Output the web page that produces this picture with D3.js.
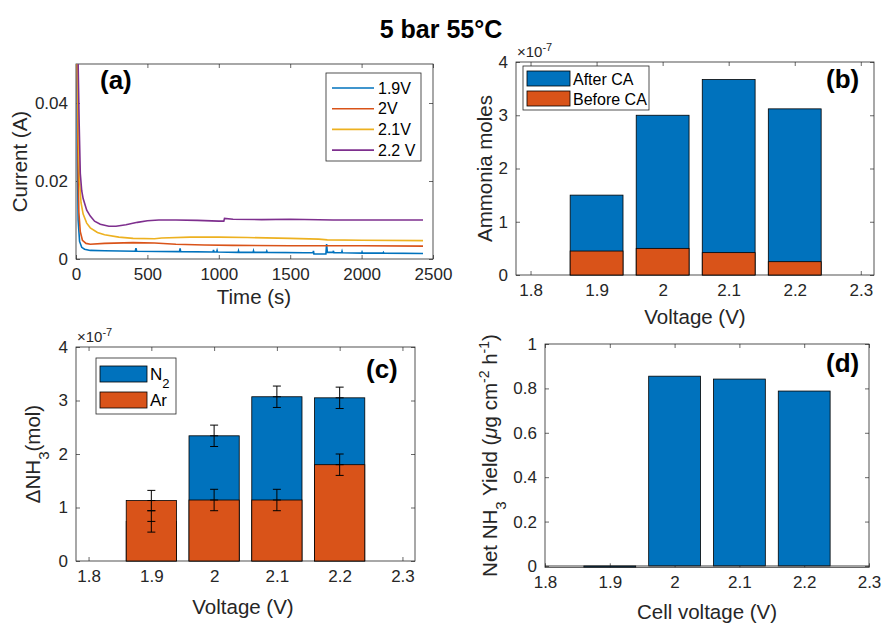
<!DOCTYPE html>
<html>
<head>
<meta charset="utf-8">
<script src="https://cdn.jsdelivr.net/npm/d3@7"></script>
<style>
  body { margin: 0; background: #fff; }
  text { font-family: "Liberation Sans", Arial, sans-serif; fill: #262626; }
  .tick text { font-size: 17px; fill: #262626; }
  .tick line { stroke: #262626; stroke-width: 0.7; }
  .frame { fill: none; stroke: #262626; stroke-width: 0.8; }
  .label { font-size: 20.5px; }
  .plabel { font-size: 26px; font-weight: bold; fill: #000; }
  .leg { font-size: 16px; fill: #000; }
  .bar { stroke: #000; stroke-width: 0.8; }
  .err { stroke: #000; stroke-width: 1; fill: none; }
</style>
</head>
<body>
<div id="chart"></div>
<script>
// ---- data ----
// (a) current transients, [time (s), current (A)]
let cur19 = [[0,0.08],[6,0.05],[10,0.025],[15,0.01],[25,0.0045],[40,0.003],[60,0.0025],[100,0.0022],[200,0.0021],
  [415,0.0020],[420,0.0028],[425,0.0020],[725,0.0019],[729,0.0027],[733,0.0019],[960,0.0018],[963,0.0023],[967,0.0018],
  [985,0.0018],[988,0.0022],[991,0.0018],[1135,0.0017],[1138,0.0021],[1141,0.0017],[1240,0.0017],[1243,0.0021],[1246,0.0017],
  [1333,0.0017],[1336,0.0020],[1339,0.0017],[1600,0.0016],[1660,0.0016],[1663,0.0021],[1666,0.0013],[1750,0.0013],
  [1755,0.0038],[1760,0.0017],[1800,0.0017],[1803,0.0021],[1806,0.0016],[1860,0.0016],[1863,0.0020],[1866,0.0016],
  [2000,0.0015],[2003,0.0018],[2006,0.0015],[2150,0.0015],[2153,0.0017],[2156,0.0015],[2430,0.0014]];
let cur20 = [[0,0.08],[8,0.05],[14,0.025],[20,0.012],[30,0.007],[45,0.0048],[70,0.0040],[100,0.0038],[200,0.0040],
  [400,0.0042],[550,0.0041],[700,0.0038],[900,0.0036],[1100,0.0035],[1500,0.0034],[2000,0.0034],[2430,0.0033]];
let cur21 = [[0,0.08],[10,0.05],[18,0.03],[25,0.02],[35,0.0145],[50,0.0115],[75,0.0092],[100,0.0080],[150,0.0068],
  [200,0.0062],[300,0.0056],[400,0.0053],[550,0.0052],[600,0.0054],[800,0.0056],[1000,0.0056],[1200,0.0055],
  [1500,0.0053],[1700,0.0051],[1760,0.0049],[2000,0.0048],[2430,0.0047]];
let cur22 = [[0,0.08],[15,0.05],[22,0.035],[30,0.022],[40,0.0175],[50,0.0155],[75,0.0125],[100,0.011],[130,0.0097],
  [170,0.0089],[230,0.0084],[280,0.0084],[350,0.0088],[430,0.0094],[500,0.0098],[580,0.0100],[700,0.0100],
  [850,0.0099],[1000,0.0097],[1035,0.0097],[1040,0.0104],[1100,0.0102],[1300,0.0101],[1500,0.0102],[1800,0.0100],
  [2100,0.0100],[2430,0.0100]];
let curNames = ["1.9V", "2V", "2.1V", "2.2 V"];
let curColors = ["#0072BD", "#D95319", "#EDB120", "#7E2F8E"];

// (b) ammonia moles (x1e-7)
let voltages = [1.9, 2.0, 2.1, 2.2];
let afterCA = [1.5, 3.0, 3.67, 3.12];
let beforeCA = [0.45, 0.5, 0.42, 0.25];

// (c) delta NH3 (x1e-7 mol) with error
let dN2 = [0.74, 2.34, 3.07, 3.05];
let dN2Err = [0.2, 0.2, 0.2, 0.2];
let dAr = [1.13, 1.14, 1.14, 1.80];
let dArErr = [0.19, 0.2, 0.2, 0.2];

// (d) net NH3 yield
let netYield = [-0.005, 0.855, 0.842, 0.788];

let vTicks = [1.8, 1.9, 2.0, 2.1, 2.2, 2.3];
let BLUE = "#0072BD", ORANGE = "#D95319";
let fmtV = (d) => String(+d.toFixed(1));

let svg = d3.select("#chart").append("svg").attr("width", 882).attr("height", 623);

svg.append("text").attr("x", 441).attr("y", 38).attr("text-anchor", "middle")
  .style("font-size", "25px").style("font-weight", "bold").style("fill", "#000").text("5 bar 55°C");

// box with inward ticks on all sides, MATLAB style
function drawAxes(x, y, xt, yt, xf, yf) {
  let [l, r] = x.range(), [b, t] = y.range();
  let g = svg.append("g");
  g.append("g").attr("transform", "translate(0," + b + ")")
    .call(d3.axisBottom(x).tickValues(xt).tickSize(-4).tickPadding(9).tickFormat(xf));
  g.append("g").attr("transform", "translate(0," + t + ")")
    .call(d3.axisTop(x).tickValues(xt).tickSize(-4).tickFormat(""));
  g.append("g").attr("transform", "translate(" + l + ",0)")
    .call(d3.axisLeft(y).tickValues(yt).tickSize(-4).tickPadding(8).tickFormat(yf));
  g.append("g").attr("transform", "translate(" + r + ",0)")
    .call(d3.axisRight(y).tickValues(yt).tickSize(-4).tickFormat(""));
  g.selectAll(".domain").remove();
  g.append("rect").attr("class", "frame").attr("x", l).attr("y", t).attr("width", r - l).attr("height", b - t);
  return g;
}

function yLabel(cx, cy, parts) {
  let tx = svg.append("text").attr("class", "label").attr("text-anchor", "middle")
    .attr("transform", "translate(" + cx + "," + cy + ") rotate(-90)").attr("dy", "0.35em");
  parts.forEach(function (p) {
    let s = tx.append("tspan").text(p.t);
    if (p.sub) s.attr("baseline-shift", "sub").style("font-size", "15px");
    if (p.sup) s.attr("baseline-shift", "super").style("font-size", "14px");
    if (p.it) s.style("font-style", "italic");
  });
}

function xLabel(cx, y, txt) {
  svg.append("text").attr("class", "label").attr("text-anchor", "middle").attr("x", cx).attr("y", y).text(txt);
}

function expLabel(x, y) {
  let t = svg.append("text").attr("x", x).attr("y", y).style("font-size", "15px").style("fill", "#262626");
  t.append("tspan").text("×10");
  t.append("tspan").attr("baseline-shift", "super").style("font-size", "11px").text("-7");
}

// ---------- (a) ----------
let xa = d3.scaleLinear().domain([0, 2500]).range([76, 433]);
let ya = d3.scaleLinear().domain([0, 0.05]).range([259, 64]);
drawAxes(xa, ya, d3.range(0, 2501, 500), [0, 0.02, 0.04], (d) => String(d), (d) => d === 0 ? "0" : d.toFixed(2));

svg.append("clipPath").attr("id", "clipA").append("rect")
  .attr("x", 76).attr("y", 64).attr("width", 357).attr("height", 195);
let lineA = d3.line().x((d) => xa(d[0])).y((d) => ya(d[1]));
[cur19, cur20, cur21, cur22].forEach(function (s, i) {
  svg.append("path").datum(s).attr("clip-path", "url(#clipA)")
    .attr("fill", "none").attr("stroke", curColors[i]).attr("stroke-width", 1.6).attr("d", lineA);
});
// legend
let legA = svg.append("g").attr("transform", "translate(326,73)");
legA.append("rect").attr("width", 95).attr("height", 88).attr("fill", "#fff").attr("stroke", "#262626").attr("stroke-width", 0.8);
curNames.forEach(function (n, i) {
  let yy = 15 + i * 20.7;
  legA.append("line").attr("x1", 6).attr("x2", 48).attr("y1", yy).attr("y2", yy)
    .attr("stroke", curColors[i]).attr("stroke-width", 1.6);
  legA.append("text").attr("class", "leg").attr("x", 52).attr("y", yy).attr("dy", "0.35em").text(n);
});
svg.append("text").attr("class", "plabel").attr("x", 100).attr("y", 89).text("(a)");
yLabel(20, 161.5, [{t: "Current (A)"}]);
xLabel(254, 304, "Time (s)");

// ---------- (b) ----------
let xb = d3.scaleLinear().domain([1.778, 2.32]).range([516, 874]);
let yb = d3.scaleLinear().domain([0, 4]).range([275, 62]);
drawAxes(xb, yb, vTicks, [0, 1, 2, 3, 4], fmtV, (d) => String(d));
let bw = 0.08;
svg.append("g").selectAll("rect").data(voltages).enter().append("rect").attr("class", "bar")
  .attr("x", (d) => xb(d - bw / 2)).attr("width", (d) => xb(d + bw / 2) - xb(d - bw / 2))
  .attr("y", (d, i) => yb(afterCA[i])).attr("height", (d, i) => yb(0) - yb(afterCA[i])).attr("fill", BLUE);
svg.append("g").selectAll("rect").data(voltages).enter().append("rect").attr("class", "bar")
  .attr("x", (d) => xb(d - bw / 2)).attr("width", (d) => xb(d + bw / 2) - xb(d - bw / 2))
  .attr("y", (d, i) => yb(beforeCA[i])).attr("height", (d, i) => yb(0) - yb(beforeCA[i])).attr("fill", ORANGE);
let legB = svg.append("g").attr("transform", "translate(523,66)");
legB.append("rect").attr("width", 126).attr("height", 44).attr("fill", "#fff").attr("stroke", "#262626").attr("stroke-width", 0.8);
[["After CA", BLUE], ["Before CA", ORANGE]].forEach(function (e, i) {
  legB.append("rect").attr("x", 4).attr("y", 5 + i * 20).attr("width", 43).attr("height", 15)
    .attr("fill", e[1]).attr("stroke", "#000").attr("stroke-width", 0.8);
  legB.append("text").attr("class", "leg").attr("x", 50).attr("y", 13 + i * 20).attr("dy", "0.35em").text(e[0]);
});
expLabel(517, 57);
svg.append("text").attr("class", "plabel").attr("x", 826).attr("y", 88).text("(b)");
yLabel(485, 168.5, [{t: "Ammonia moles"}]);
xLabel(695, 324, "Voltage (V)");

// ---------- (c) ----------
let xc = d3.scaleLinear().domain([1.78, 2.32]).range([76, 415]);
let yc = d3.scaleLinear().domain([0, 4]).range([561, 347]);
drawAxes(xc, yc, vTicks, [0, 1, 2, 3, 4], fmtV, (d) => String(d));
svg.append("g").selectAll("rect").data(voltages).enter().append("rect").attr("class", "bar")
  .attr("x", (d) => xc(d - bw / 2)).attr("width", (d) => xc(d + bw / 2) - xc(d - bw / 2))
  .attr("y", (d, i) => yc(dN2[i])).attr("height", (d, i) => yc(0) - yc(dN2[i])).attr("fill", BLUE);
svg.append("g").selectAll("rect").data(voltages).enter().append("rect").attr("class", "bar")
  .attr("x", (d) => xc(d - bw / 2)).attr("width", (d) => xc(d + bw / 2) - xc(d - bw / 2))
  .attr("y", (d, i) => yc(dAr[i])).attr("height", (d, i) => yc(0) - yc(dAr[i])).attr("fill", ORANGE);
// error bars
let cap = 4;
function errBars(vals, errs) {
  voltages.forEach(function (v, i) {
    let cx = xc(v), lo = yc(vals[i] - errs[i]), hi = yc(vals[i] + errs[i]), mid = yc(vals[i]);
    let p = d3.path();
    p.moveTo(cx, lo); p.lineTo(cx, hi);
    [lo, hi, mid].forEach(function (yy) { p.moveTo(cx - cap, yy); p.lineTo(cx + cap, yy); });
    svg.append("path").attr("class", "err").attr("d", p.toString());
  });
}
errBars(dN2, dN2Err);
errBars(dAr, dArErr);
let legC = svg.append("g").attr("transform", "translate(96,358)");
legC.append("rect").attr("width", 80).attr("height", 56).attr("fill", "#fff").attr("stroke", "#262626").attr("stroke-width", 0.8);
[["N", "2", BLUE], ["Ar", "", ORANGE]].forEach(function (e, i) {
  legC.append("rect").attr("x", 4).attr("y", 8 + i * 26).attr("width", 47).attr("height", 16)
    .attr("fill", e[2]).attr("stroke", "#000").attr("stroke-width", 0.8);
  let t = legC.append("text").attr("class", "leg").attr("x", 54).attr("y", 16 + i * 26).attr("dy", "0.35em")
    .style("font-size", "17px").text(e[0]);
  if (e[1]) t.append("tspan").attr("baseline-shift", "sub").style("font-size", "13px").text(e[1]);
});
expLabel(77, 342);
svg.append("text").attr("class", "plabel").attr("x", 366).attr("y", 378).text("(c)");
yLabel(33, 454, [{t: "ΔNH"}, {t: "3", sub: true}, {t: "(mol)"}]);
xLabel(243, 614, "Voltage (V)");

// ---------- (d) ----------
let xd = d3.scaleLinear().domain([1.8, 2.3]).range([545, 869]);
let yd = d3.scaleLinear().domain([-0.006, 1]).range([567.3, 344]);
drawAxes(xd, yd, vTicks, [0, 0.2, 0.4, 0.6, 0.8, 1], fmtV, (d) => String(+d.toFixed(1)));
svg.append("g").selectAll("rect").data(voltages).enter().append("rect").attr("class", "bar")
  .attr("x", (d) => xd(d - bw / 2)).attr("width", (d) => xd(d + bw / 2) - xd(d - bw / 2))
  .attr("y", (d, i) => yd(Math.max(0, netYield[i]))).attr("height", (d, i) => Math.abs(yd(0) - yd(netYield[i])))
  .attr("fill", BLUE);
svg.append("line").attr("x1", 545).attr("x2", 869).attr("y1", yd(0)).attr("y2", yd(0))
  .attr("stroke", "#262626").attr("stroke-width", 0.8);
svg.append("text").attr("class", "plabel").attr("x", 826).attr("y", 372).text("(d)");
yLabel(490, 455.5, [{t: "Net NH"}, {t: "3", sub: true}, {t: "  Yield ("}, {t: "μ", it: true}, {t: "g cm"},
  {t: "-2", sup: true}, {t: " h"}, {t: "-1", sup: true}, {t: ")"}]);
xLabel(707, 619, "Cell voltage (V)");
</script>
</body>
</html>
